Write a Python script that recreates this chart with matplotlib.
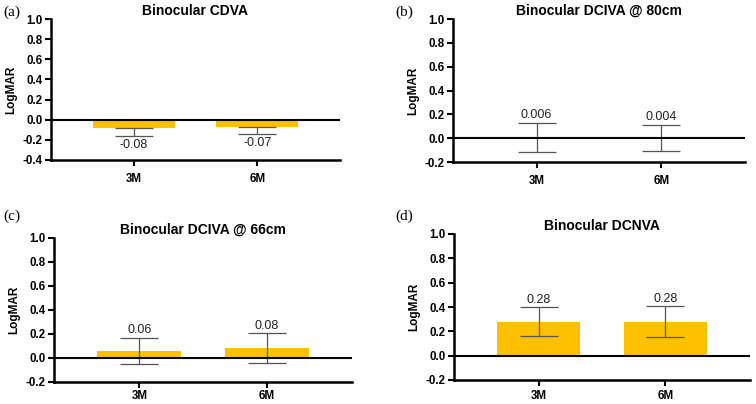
import matplotlib.pyplot as plt
import numpy as np

plt.rcParams['font.family'] = ['Liberation Sans', 'DejaVu Sans']

# ---------------- DATOS ----------------
categorias = ['3M', '6M']

cdva_media = [-0.08, -0.07]
cdva_sd = [0.08, 0.075]

dciva80_media = [0.006, 0.004]
dciva80_sd = [0.125, 0.11]

dciva66_media = [0.06, 0.08]
dciva66_sd = [0.11, 0.125]

dcnva_media = [0.28, 0.28]
dcnva_sd = [0.12, 0.125]

etiquetas_a = ['-0.08', '-0.07']
etiquetas_b = ['0.006', '0.004']
etiquetas_c = ['0.06', '0.08']
etiquetas_d = ['0.28', '0.28']

W, H = 756, 404

def caja(izq, der, arriba, abajo):
    # convierte pixeles -> coordenadas de figura
    return [izq / W, 1 - abajo / H, (der - izq) / W, (abajo - arriba) / H]

paneles = [
    dict(pos=caja(51, 340, 19, 160), ylim=(-0.4, 1.0), titulo='Binocular CDVA',
         media=cdva_media, sd=cdva_sd, etiquetas=etiquetas_a, letra='(a)', letra_xy=(3, 12), xpad=5),
    dict(pos=caja(453, 745, 19, 162), ylim=(-0.2, 1.0), titulo='Binocular DCIVA @ 80cm',
         media=dciva80_media, sd=dciva80_sd, etiquetas=etiquetas_b, letra='(b)', letra_xy=(395, 12), xpad=5),
    dict(pos=caja(54, 352, 238, 382), ylim=(-0.2, 1.0), titulo='Binocular DCIVA @ 66cm',
         media=dciva66_media, sd=dciva66_sd, etiquetas=etiquetas_c, letra='(c)', letra_xy=(3, 216), xpad=2),
    dict(pos=caja(454, 750, 234, 380), ylim=(-0.2, 1.0), titulo='Binocular DCNVA',
         media=dcnva_media, sd=dcnva_sd, etiquetas=etiquetas_d, letra='(d)', letra_xy=(395, 216), xpad=3),
]

fig = plt.figure(figsize=(7.56, 4.04), dpi=100)
x = np.arange(len(categorias))
color_barra = '#FFC000'
color_error = '#555555'

for p in paneles:
    ax = fig.add_axes(p['pos'])
    media = np.array(p['media'])
    sd = np.array(p['sd'])
    ax.bar(x, media, width=0.66, color=color_barra, zorder=2)
    # barras de error: solo hacia abajo si la media es negativa
    abajo = sd.copy()
    arriba = np.where(media < 0, 0, sd)
    ax.errorbar(x, media, yerr=[abajo, arriba], fmt='none', ecolor=color_error,
                elinewidth=0.9, capsize=14, capthick=0.9, zorder=3)
    ax.axhline(0, color='black', linewidth=1.5, zorder=4)

    for xi, m, s, txt in zip(x, media, sd, p['etiquetas']):
        if m < 0:
            ax.annotate(txt, xy=(xi, m - s), xytext=(0, -2), textcoords='offset points',
                        ha='center', va='top', fontsize=9, color='#222222')
        else:
            ax.annotate(txt, xy=(xi, m + s), xytext=(0, 1), textcoords='offset points',
                        ha='center', va='bottom', fontsize=9, color='#222222')

    ax.set_xlim(-0.67, 1.67)
    ax.set_ylim(*p['ylim'])
    ax.set_yticks(np.arange(p['ylim'][0], 1.01, 0.2))
    ax.set_yticklabels([f'{v:.1f}' for v in np.arange(p['ylim'][0], 1.01, 0.2)])
    ax.set_xticks(x)
    ax.set_xticklabels(categorias)
    for lbl in ax.get_xticklabels() + ax.get_yticklabels():
        lbl.set_fontweight('bold')
        lbl.set_fontsize(8.3)
    ax.tick_params(axis='both', direction='out', length=4, width=1.5, pad=2)
    ax.tick_params(axis='x', pad=p['xpad'])

    ax.spines['top'].set_visible(False)
    ax.spines['right'].set_visible(False)
    ax.spines['left'].set_linewidth(1.8)
    ax.spines['bottom'].set_linewidth(1.8)

    ax.set_ylabel('LogMAR', fontsize=8.5, fontweight='bold', labelpad=4)
    ax.set_title(p['titulo'], fontsize=10, fontweight='bold', pad=3)

    fig.text(p['letra_xy'][0] / W, 1 - p['letra_xy'][1] / H, p['letra'],
             family=['Liberation Serif', 'DejaVu Serif'], fontsize=11, va='center', ha='left')

fig.savefig('out.png', dpi=100)
